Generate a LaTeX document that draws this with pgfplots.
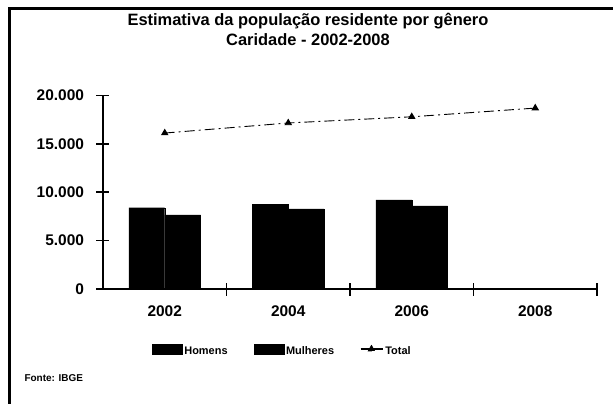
\documentclass[border=0pt]{standalone}
\usepackage{pgfplots}
\pgfplotsset{compat=1.18}
\usepackage{fontspec}
\setmainfont{Liberation Sans}
\begin{document}
\begin{tikzpicture}
\useasboundingbox (-103bp,-115bp) rectangle (510bp,289bp);
\fill[white] (-103bp,-115bp) rectangle (510bp,289bp);
\draw[line width=3bp] (-93.5bp,-115bp) -- (-93.5bp,280bp) -- (510bp,280bp);
\begin{axis}[
  at={(0bp,0bp)}, anchor=south west,
  scale only axis,
  width=494bp, height=193.5bp,
  xmin=-0.5, xmax=3.5, ymin=0, ymax=20000,
  scaled y ticks=false,
  axis x line=bottom, axis y line=left,
  axis line style={-, line width=2.2bp},
  every tick/.style={black, line width=1.6bp},
  tick align=center, major tick length=13bp,
  xtick={0.5,1.5,2.5,3.5},
  xticklabels={},
  extra x ticks={0,1,2,3},
  extra x tick labels={2002,2004,2006,2008},
  extra x tick style={major tick length=0bp},
  ytick={0,5000,10000,15000,20000},
  yticklabels={0,5.000,10.000,15.000,20.000},
  ticklabel style={font=\fontsize{15.5}{17}\selectfont\bfseries},
  yticklabel style={xshift=-9bp},
  xticklabel style={yshift=-13bp},
  bar width=0.29,
  legend style={at={(0.363,-0.32)}, anchor=center, draw=none, legend columns=3,
    font=\fontsize{11}{12}\selectfont\bfseries, column sep=0bp,
    /tikz/every even column/.append style={column sep=24bp}},
  legend image code/.code={\fill[black] (0bp,-2.5bp) rectangle (30bp,7.5bp);},
]
\addplot[ybar, fill=black, draw=black, bar shift=-0.145] coordinates {(0,8400) (1,8780) (2,9200)};
\addlegendentry{Homens}
\addplot[ybar, fill=black, draw=black, bar shift=0.145] coordinates {(0,7650) (1,8270) (2,8580)};
\addlegendentry{Mulheres}
\addplot[black, line width=0.9bp, dash pattern=on 10bp off 4bp on 2bp off 4bp,
  mark=triangle*, mark size=3.5bp, mark options={solid, fill=black},
  legend image code/.code={\draw[black, solid, line width=1.2bp] (0bp,2.5bp) -- (22bp,2.5bp); \fill[black] (11bp,2.5bp) +(90:3.8bp) -- +(210:3.8bp) -- +(330:3.8bp) -- cycle;}]
  coordinates {(0,16120) (1,17160) (2,17800) (3,18700)};
\addlegendentry{Total}
\end{axis}
\node[font=\fontsize{16.5}{18}\selectfont\bfseries, align=center] at (205bp,260bp) {Estimativa da população residente por gênero\\[2bp]Caridade - 2002-2008};
\node[font=\fontsize{10}{11}\selectfont\bfseries, anchor=west] at (-82bp,-89bp) {Fonte: IBGE};
\end{tikzpicture}
\end{document}
